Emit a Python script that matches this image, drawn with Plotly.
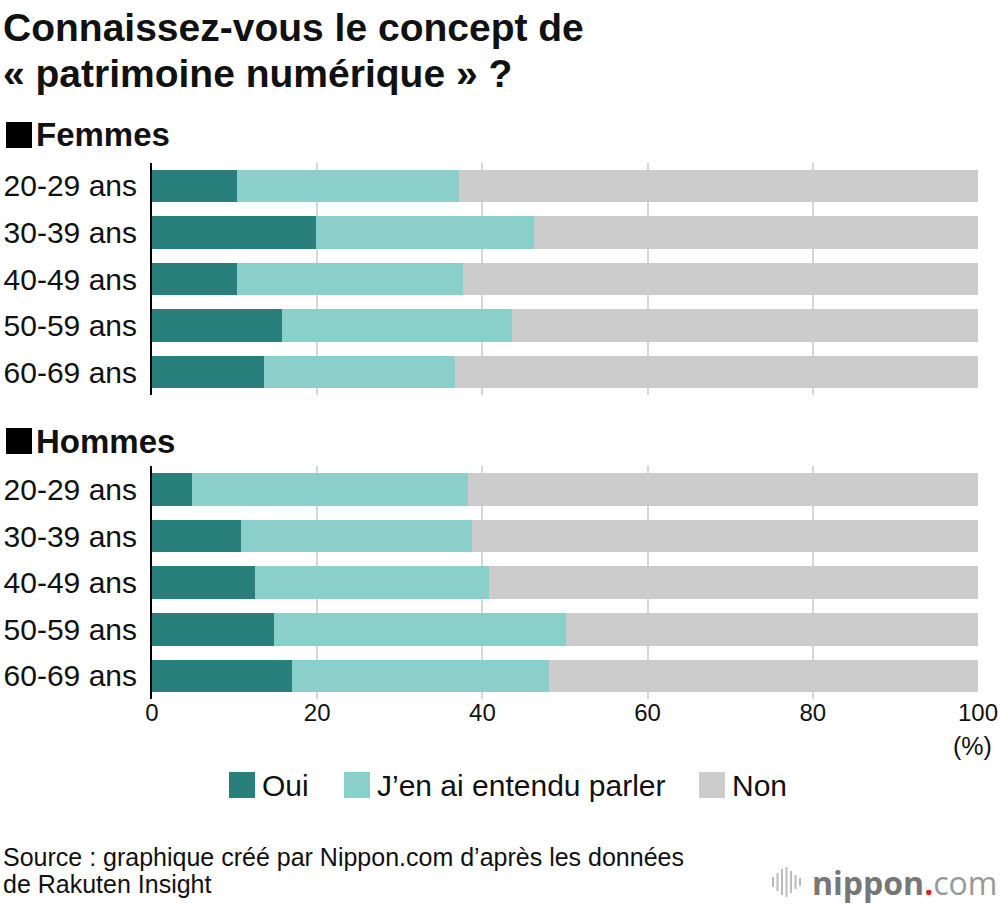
import plotly.graph_objects as go

ages = ["20-29 ans", "30-39 ans", "40-49 ans", "50-59 ans", "60-69 ans"]
series_names = ["Oui", "J’en ai entendu parler", "Non"]
series_colors = ["#287f7b", "#8acfca", "#cccccc"]

femmes_oui = [10.3, 19.8, 10.3, 15.7, 13.5]
femmes_entendu = [26.9, 26.5, 27.4, 27.9, 23.2]
femmes_non = [62.8, 53.7, 62.3, 56.4, 63.3]

hommes_oui = [4.9, 10.8, 12.5, 14.8, 17.0]
hommes_entendu = [33.3, 28.0, 28.3, 35.3, 31.1]
hommes_non = [61.8, 61.2, 59.2, 49.9, 51.9]

x_ticks = [0, 20, 40, 60, 80, 100]

W, H = 1000, 904
def fx(p):
    return p / W
def fy(p):
    return 1 - p / H

FONT = "Liberation Sans"

fig = go.Figure()
panels = [
    ("x", "y", [femmes_oui, femmes_entendu, femmes_non]),
    ("x2", "y2", [hommes_oui, hommes_entendu, hommes_non]),
]
for xa, ya, vals in panels:
    for name, color, v in zip(series_names, series_colors, vals):
        fig.add_trace(go.Bar(
            x=v, y=ages, orientation="h", name=name,
            marker=dict(color=color, line=dict(width=0)),
            xaxis=xa, yaxis=ya, showlegend=False,
            hovertemplate="%{y}: %{x}%<extra>" + name + "</extra>",
        ))

xdom = [fx(152), fx(978)]
common_x = dict(range=[0, 100], domain=xdom, showgrid=True, gridcolor="#d6d6d6",
                gridwidth=1.5, zeroline=False, fixedrange=True, tickvals=x_ticks,
                automargin=False)
common_y = dict(type="category", categoryorder="array", categoryarray=ages,
                autorange="reversed", showline=True, linecolor="#000000", linewidth=2,
                showgrid=False, ticks="", ticklabelstandoff=7, automargin=False,
                fixedrange=True,
                tickfont=dict(family=FONT, size=30, color="#111111"))

fig.update_layout(
    width=W, height=H,
    margin=dict(l=0, r=0, t=0, b=0),
    paper_bgcolor="white", plot_bgcolor="white",
    barmode="stack", bargap=0.3,
    font=dict(family=FONT, color="#111111"),
    xaxis=dict(**common_x, anchor="y", showticklabels=False, ticks=""),
    yaxis=dict(**common_y, domain=[fy(395.3), fy(162.7)], anchor="x"),
    xaxis2=dict(**common_x, anchor="y2", showticklabels=True, ticks="",
                ticklabelstandoff=-3, ticklabeloverflow="allow",
                tickfont=dict(family=FONT, size=24, color="#111111")),
    yaxis2=dict(**common_y, domain=[fy(699.3), fy(466.2)], anchor="x2"),
)

anns = [
    dict(text="<b>Connaissez-vous le concept de</b>", x=fx(1), y=fy(27), size=39),
    dict(text="<b>« patrimoine numérique » ?</b>", x=fx(1), y=fy(73), size=39),
    dict(text="<b>Femmes</b>", x=fx(34), y=fy(135), size=33),
    dict(text="<b>Hommes</b>", x=fx(34), y=fy(441), size=33),
    dict(text="Source : graphique créé par Nippon.com d’après les données", x=fx(1), y=fy(857), size=25),
    dict(text="de Rakuten Insight", x=fx(1), y=fy(884), size=25),
]
for a in anns:
    fig.add_annotation(text=a["text"], xref="paper", yref="paper", x=a["x"], y=a["y"],
                       xanchor="left", yanchor="middle", showarrow=False,
                       font=dict(family=FONT, size=a["size"], color="#111111"))

# black squares before the panel titles
for cy in (135, 441):
    fig.add_shape(type="rect", xref="paper", yref="paper",
                  x0=fx(6), x1=fx(32), y0=fy(cy + 13), y1=fy(cy - 13),
                  fillcolor="#000000", line=dict(width=0))

fig.add_annotation(text="(%)", xref="paper", yref="paper", x=fx(994), y=fy(746),
                   xanchor="right", yanchor="middle", showarrow=False,
                   font=dict(family=FONT, size=25, color="#111111"))

# legend drawn as boxes + labels
legend_x = [229, 344, 699]
for name, color, lx in zip(series_names, series_colors, legend_x):
    fig.add_shape(type="rect", xref="paper", yref="paper",
                  x0=fx(lx), x1=fx(lx + 26), y0=fy(798), y1=fy(772),
                  fillcolor=color, line=dict(width=0))
    fig.add_annotation(text=name, xref="paper", yref="paper", x=fx(lx + 31), y=fy(785),
                       xanchor="left", yanchor="middle", showarrow=False,
                       font=dict(family=FONT, size=30, color="#111111"))

# nippon.com logo
bar_h = [10, 18, 26, 30, 22, 14, 8]
for i, h in enumerate(bar_h):
    xx = 773 + i * 4.5
    fig.add_shape(type="line", xref="paper", yref="paper",
                  x0=fx(xx), x1=fx(xx), y0=fy(882 - h / 2), y1=fy(882 + h / 2),
                  line=dict(color="#bbbbbb", width=2))
fig.add_annotation(text="<b>nippon</b><span style='color:#e8222a'><b>.</b></span><span style='color:#999999'>com</span>",
                   xref="paper", yref="paper", x=fx(999), y=fy(882),
                   xanchor="right", yanchor="middle", showarrow=False,
                   font=dict(family="Open Sans", size=32, color="#777777"))

# the page's default 8px body margin would shift the figure; remove it
fig.write_html("out.html",
               config={"displayModeBar": False},
               post_script="document.body.style.margin='0';"
                           "document.documentElement.style.overflow='hidden';")
